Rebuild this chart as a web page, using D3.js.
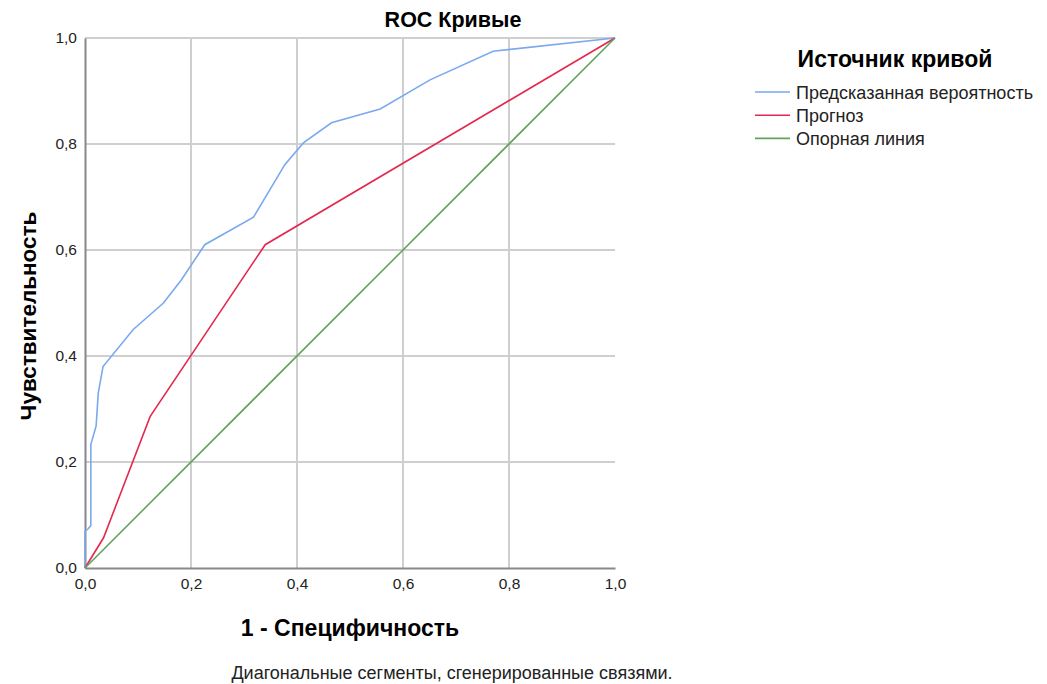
<!DOCTYPE html>
<html>
<head>
<meta charset="utf-8">
<script src="https://cdn.jsdelivr.net/npm/d3@7"></script>
<style>
  body { margin: 0; background: #fff; font-family: "Liberation Sans", Arial, sans-serif; }
</style>
</head>
<body>
<div id="chart"></div>
<script>
// ROC data: [1 - specificity, sensitivity]
const predictedProb = [
  [0, 0], [0, 0.069], [0.006, 0.074], [0.011, 0.080], [0.011, 0.233],
  [0.021, 0.268], [0.025, 0.330], [0.034, 0.380], [0.091, 0.450],
  [0.148, 0.500], [0.182, 0.544], [0.226, 0.610], [0.318, 0.662],
  [0.377, 0.761], [0.412, 0.802], [0.465, 0.840], [0.557, 0.866],
  [0.651, 0.921], [0.770, 0.975], [1, 1]
];
const forecast = [[0, 0], [0.035, 0.057], [0.123, 0.286], [0.340, 0.610], [1, 1]];
const referenceLine = [[0, 0], [1, 1]];

const seriesNames = ["Предсказанная вероятность", "Прогноз", "Опорная линия"];
const seriesColors = ["#7aa9ee", "#e3294f", "#62a45c"];
const tickValues = [0, 0.2, 0.4, 0.6, 0.8, 1.0];

const W = 1047, H = 684;
const margin = { top: 38, left: 85 },
  width = 530,
  height = 530;

const svg = d3.select("#chart").append("svg")
  .attr("width", W)
  .attr("height", H);

const g = svg.append("g")
  .attr("transform", `translate(${margin.left},${margin.top})`);

const x = d3.scaleLinear().domain([0, 1]).range([0, width]);
const y = d3.scaleLinear().domain([0, 1]).range([height, 0]);
const fmt = d => d3.format(".1f")(d).replace(".", ",");

// grid
g.append("g")
  .selectAll("line")
  .data(tickValues.slice(1, -1))
  .join("line")
  .attr("x1", d => x(d)).attr("x2", d => x(d))
  .attr("y1", 0).attr("y2", height)
  .attr("stroke", "#cfcfcf").attr("stroke-width", 2);

g.append("g")
  .selectAll("line")
  .data(tickValues.slice(1))
  .join("line")
  .attr("x1", 0).attr("x2", width)
  .attr("y1", d => y(d)).attr("y2", d => y(d))
  .attr("stroke", "#cfcfcf").attr("stroke-width", 2);

// axes
const xAxis = g.append("g")
  .attr("transform", `translate(0,${height})`)
  .call(d3.axisBottom(x).tickValues(tickValues).tickFormat(fmt).tickSize(0).tickPadding(10));
const yAxis = g.append("g")
  .call(d3.axisLeft(y).tickValues(tickValues).tickFormat(fmt).tickSize(0).tickPadding(8));

[xAxis, yAxis].forEach(a => {
  a.select(".domain").attr("stroke", "#888").attr("stroke-width", 2);
  a.selectAll("text")
    .style("font-family", "Liberation Sans, Arial, sans-serif")
    .style("font-size", "15.5px")
    .attr("fill", "#222");
});

// lines
const line = d3.line().x(d => x(d[0])).y(d => y(d[1]));
[predictedProb, forecast, referenceLine].forEach((data, i) => {
  g.append("path")
    .datum(data)
    .attr("fill", "none")
    .attr("stroke", seriesColors[i])
    .attr("stroke-width", 1.6)
    .attr("d", line);
});

// title
svg.append("text")
  .attr("x", 453).attr("y", 27)
  .attr("text-anchor", "middle")
  .style("font-size", "21.5px").style("font-weight", "bold")
  .text("ROC Кривые");

svg.append("text")
  .attr("x", margin.left + width / 2).attr("y", 636)
  .attr("text-anchor", "middle")
  .style("font-size", "23px").style("font-weight", "bold")
  .text("1 - Специфичность");

svg.append("text")
  .attr("transform", "rotate(-90)")
  .attr("x", -316).attr("y", 36)
  .attr("text-anchor", "middle")
  .style("font-size", "22.5px").style("font-weight", "bold")
  .text("Чувствительность");

svg.append("text")
  .attr("x", 452).attr("y", 679)
  .attr("text-anchor", "middle")
  .style("font-size", "18px")
  .attr("fill", "#222")
  .text("Диагональные сегменты, сгенерированные связями.");

// legend
svg.append("text")
  .attr("x", 895).attr("y", 67)
  .attr("text-anchor", "middle")
  .style("font-size", "23px").style("font-weight", "bold")
  .text("Источник кривой");

const legend = svg.append("g").attr("transform", "translate(755,92)");
seriesNames.forEach((name, i) => {
  const row = legend.append("g").attr("transform", `translate(0,${i * 23.2})`);
  row.append("line")
    .attr("x1", 0).attr("x2", 35)
    .attr("stroke", seriesColors[i]).attr("stroke-width", 1.6);
  row.append("text")
    .attr("x", 41).attr("y", 7)
    .style("font-size", "18px")
    .attr("fill", "#222")
    .text(name);
});
</script>
</body>
</html>
